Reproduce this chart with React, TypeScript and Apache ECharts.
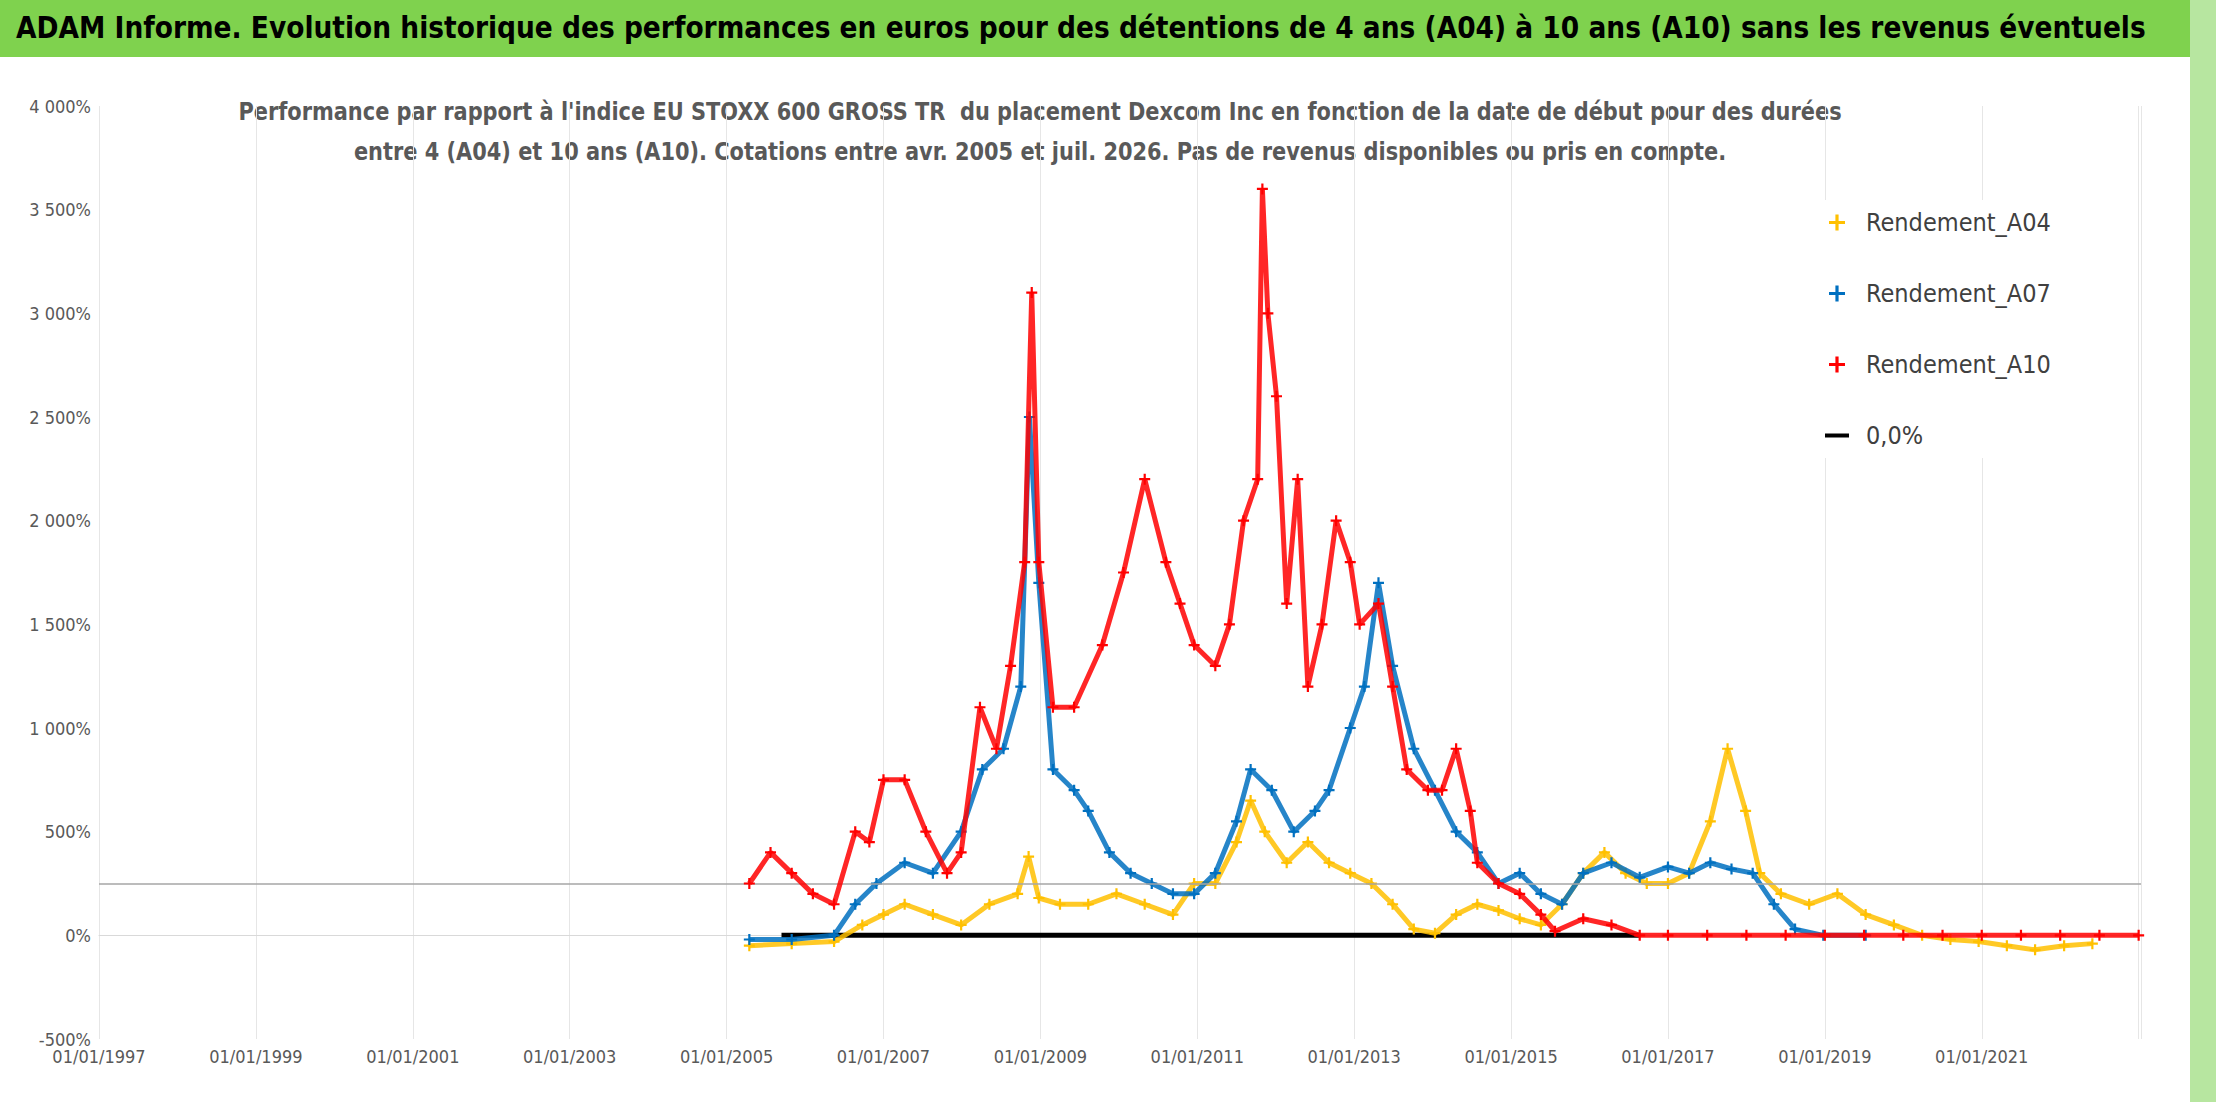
import React, { useEffect, useRef } from 'react';
import * as echarts from 'echarts';

// [decimal year, performance %]
const rendementA04: number[][] = [
  [2005.29, -50], [2005.83, -40], [2006.37, -30], [2006.73, 50], [2007.0, 100], [2007.27, 150],
  [2007.63, 100], [2007.99, 50], [2008.35, 150], [2008.71, 200], [2008.85, 380], [2008.98, 180], [2009.25, 150],
  [2009.61, 150], [2009.97, 200], [2010.33, 150], [2010.69, 100], [2010.96, 250], [2011.23, 250],
  [2011.5, 450], [2011.68, 650], [2011.86, 500], [2012.14, 350], [2012.41, 450], [2012.68, 350],
  [2012.95, 300], [2013.22, 250], [2013.49, 150], [2013.76, 30], [2014.03, 10], [2014.3, 100],
  [2014.57, 150], [2014.84, 120], [2015.11, 80], [2015.38, 50], [2015.65, 150], [2015.92, 300],
  [2016.19, 400], [2016.46, 300], [2016.73, 250], [2017.0, 250], [2017.27, 300], [2017.54, 550],
  [2017.76, 900], [2017.99, 600], [2018.17, 300], [2018.44, 200], [2018.8, 150], [2019.16, 200],
  [2019.52, 100], [2019.88, 50], [2020.24, 0], [2020.6, -20], [2020.96, -30], [2021.32, -50],
  [2021.68, -70], [2022.05, -50], [2022.41, -40],
];

const rendementA07: number[][] = [
  [2005.29, -20], [2005.83, -20], [2006.37, 0], [2006.64, 150], [2006.91, 250], [2007.27, 350],
  [2007.63, 300], [2007.99, 500], [2008.26, 800], [2008.53, 900], [2008.75, 1200], [2008.86, 2500],
  [2008.98, 1700], [2009.16, 800], [2009.43, 700], [2009.61, 600], [2009.88, 400], [2010.15, 300],
  [2010.42, 250], [2010.69, 200], [2010.96, 200], [2011.23, 300], [2011.5, 550], [2011.68, 800],
  [2011.95, 700], [2012.23, 500], [2012.5, 600], [2012.68, 700], [2012.95, 1000], [2013.13, 1200],
  [2013.31, 1700], [2013.49, 1300], [2013.76, 900], [2014.03, 700], [2014.3, 500], [2014.57, 400],
  [2014.84, 250], [2015.11, 300], [2015.38, 200], [2015.65, 150], [2015.92, 300], [2016.28, 350],
  [2016.64, 280], [2017.0, 330], [2017.27, 300], [2017.54, 350], [2017.81, 320], [2018.08, 300],
  [2018.35, 150], [2018.62, 30], [2018.98, 0], [2019.52, 0],
];

const rendementA10: number[][] = [
  [2005.29, 250], [2005.56, 400], [2005.83, 300], [2006.1, 200], [2006.37, 150], [2006.64, 500],
  [2006.82, 450], [2007.0, 750], [2007.27, 750], [2007.54, 500], [2007.81, 300], [2007.99, 400],
  [2008.23, 1100], [2008.44, 900], [2008.62, 1300], [2008.8, 1800], [2008.89, 3100], [2008.98, 1800],
  [2009.16, 1100], [2009.43, 1100], [2009.79, 1400], [2010.06, 1750], [2010.33, 2200], [2010.6, 1800],
  [2010.78, 1600], [2010.96, 1400], [2011.23, 1300], [2011.41, 1500], [2011.59, 2000], [2011.77, 2200],
  [2011.83, 3600], [2011.9, 3000], [2012.01, 2600], [2012.14, 1600], [2012.28, 2200], [2012.41, 1200],
  [2012.59, 1500], [2012.77, 2000], [2012.95, 1800], [2013.07, 1500], [2013.31, 1600], [2013.49, 1200],
  [2013.67, 800], [2013.94, 700], [2014.12, 700], [2014.3, 900], [2014.48, 600], [2014.57, 350],
  [2014.84, 250], [2015.11, 200], [2015.38, 100], [2015.56, 20], [2015.92, 80], [2016.28, 50],
  [2016.64, 0], [2017.0, 0], [2017.5, 0], [2018.0, 0], [2018.5, 0], [2019.0, 0], [2019.5, 0],
  [2020.0, 0], [2020.5, 0], [2021.0, 0], [2021.5, 0], [2022.0, 0], [2022.5, 0], [2023.0, 0],
];

const zeroLine: number[][] = [[2005.7, 0], [2016.64, 0]];
const refLevel = 250;
const lastLabelYear = 2021;

const seriesNames = ['Rendement_A04', 'Rendement_A07', 'Rendement_A10', '0,0%'];
const seriesColors = ['#FFC000', '#0070C0', '#FF0000', '#000000'];

const YEAR_MS = 365.25 * 86400000;
const BASE = Date.UTC(1997, 0, 1);
const toMs = (y: number) => BASE + (y - 1997) * YEAR_MS;
const conv = (d: number[][]) => d.map(([y, v]) => [toMs(y), v]);

const PLUS = 'path://M4,0H6V4H10V6H6V10H4V6H0V4H4Z';
const DASH = 'path://M0,0H24V4H0Z';
const FONT = "'Liberation Sans Narrow', 'DejaVu Sans Condensed', 'Liberation Sans', sans-serif";

const App = () => {
  const chartRef = useRef<HTMLDivElement>(null);

  useEffect(() => {
    if (!chartRef.current) return;
    const chart = echarts.init(chartRef.current, null, { renderer: 'svg' });

    const scatter = (i: number, data: number[][]) => ({
      name: seriesNames[i],
      type: 'line',
      data: conv(data),
      symbol: PLUS,
      symbolSize: 11,
      showAllSymbol: true,
      itemStyle: { color: seriesColors[i] },
      lineStyle: { color: seriesColors[i], width: 5, opacity: 0.85 },
      z: 3 + i,
    });

    const option: echarts.EChartsCoreOption = {
      animation: false,
      backgroundColor: '#ffffff',
      textStyle: { fontFamily: FONT },
      graphic: [
        { type: 'rect', left: 0, top: 0, shape: { width: 2216, height: 57 }, style: { fill: '#7FD24E' } },
        { type: 'rect', left: 2190, top: 0, shape: { width: 26, height: 1102 }, style: { fill: '#B7E6A0' } },
        {
          type: 'text', x: 16, y: 12, scaleX: 0.95,
          style: {
            text: 'ADAM Informe. Evolution historique des performances en euros pour des détentions de 4 ans (A04) à 10 ans (A10) sans les revenus éventuels',
            font: `bold 31px ${FONT}`, fill: '#000',
          },
        },
        {
          type: 'text', x: 1040, y: 92, scaleX: 0.93,
          style: {
            text: "Performance par rapport à l'indice EU STOXX 600 GROSS TR  du placement Dexcom Inc en fonction de la date de début pour des durées\nentre 4 (A04) et 10 ans (A10). Cotations entre avr. 2005 et juil. 2026. Pas de revenus disponibles ou pris en compte.",
            font: `bold 25px ${FONT}`, fill: '#595959', align: 'center', lineHeight: 40,
          },
        },
      ],
      legend: {
        data: seriesNames.map((n, i) => ({
          name: n,
          icon: i < 3 ? PLUS : DASH,
          itemStyle: { color: seriesColors[i] },
        })),
        orient: 'vertical',
        left: 1815,
        top: 200,
        itemGap: 46,
        itemWidth: 24,
        itemHeight: 16,
        backgroundColor: '#ffffff',
        padding: [10, 30, 10, 10],
        textStyle: { fontSize: 25, color: '#404040', fontFamily: FONT, padding: [0, 0, 0, 12] },
      },
      grid: { left: 99, right: 75, top: 106, bottom: 63 },
      xAxis: {
        type: 'value',
        min: toMs(1997),
        max: toMs(2023.03),
        interval: 2 * YEAR_MS,
        axisLine: { show: true, lineStyle: { color: '#d9d9d9' } },
        axisTick: { show: false },
        splitLine: { show: true, lineStyle: { color: '#e6e6e6' } },
        axisLabel: {
          color: '#595959', fontSize: 18, fontFamily: FONT, showMaxLabel: false,
          formatter: (v: number) => {
            const y = new Date(v + 43200000).getUTCFullYear();
            return y > lastLabelYear ? '' : '01/01/' + y;
          },
        },
      },
      yAxis: {
        type: 'value',
        min: -500,
        max: 4000,
        interval: 500,
        axisLine: { show: false },
        axisTick: { show: false },
        splitLine: { show: false },
        axisLabel: {
          color: '#595959', fontSize: 18, fontFamily: FONT,
          formatter: (v: number) => v.toLocaleString('fr-FR').replace(/\s/g, ' ') + '%',
        },
      },
      series: [
        scatter(0, rendementA04),
        scatter(1, rendementA07),
        scatter(2, rendementA10),
        {
          name: seriesNames[3],
          type: 'line',
          data: conv(zeroLine),
          symbol: 'none',
          lineStyle: { color: '#000', width: 5 },
          itemStyle: { color: '#000' },
          z: 2,
          markLine: {
            silent: true,
            symbol: 'none',
            label: { show: false },
            lineStyle: { color: '#a6a6a6', type: 'solid', width: 1.5 },
            data: [{ yAxis: refLevel }],
          },
        },
      ],
    };

    chart.setOption(option);
    return () => chart.dispose();
  }, []);

  return <div ref={chartRef} style={{ position: 'fixed', left: 0, top: 0, width: 2216, height: 1102 }} />;
};

export default App;
